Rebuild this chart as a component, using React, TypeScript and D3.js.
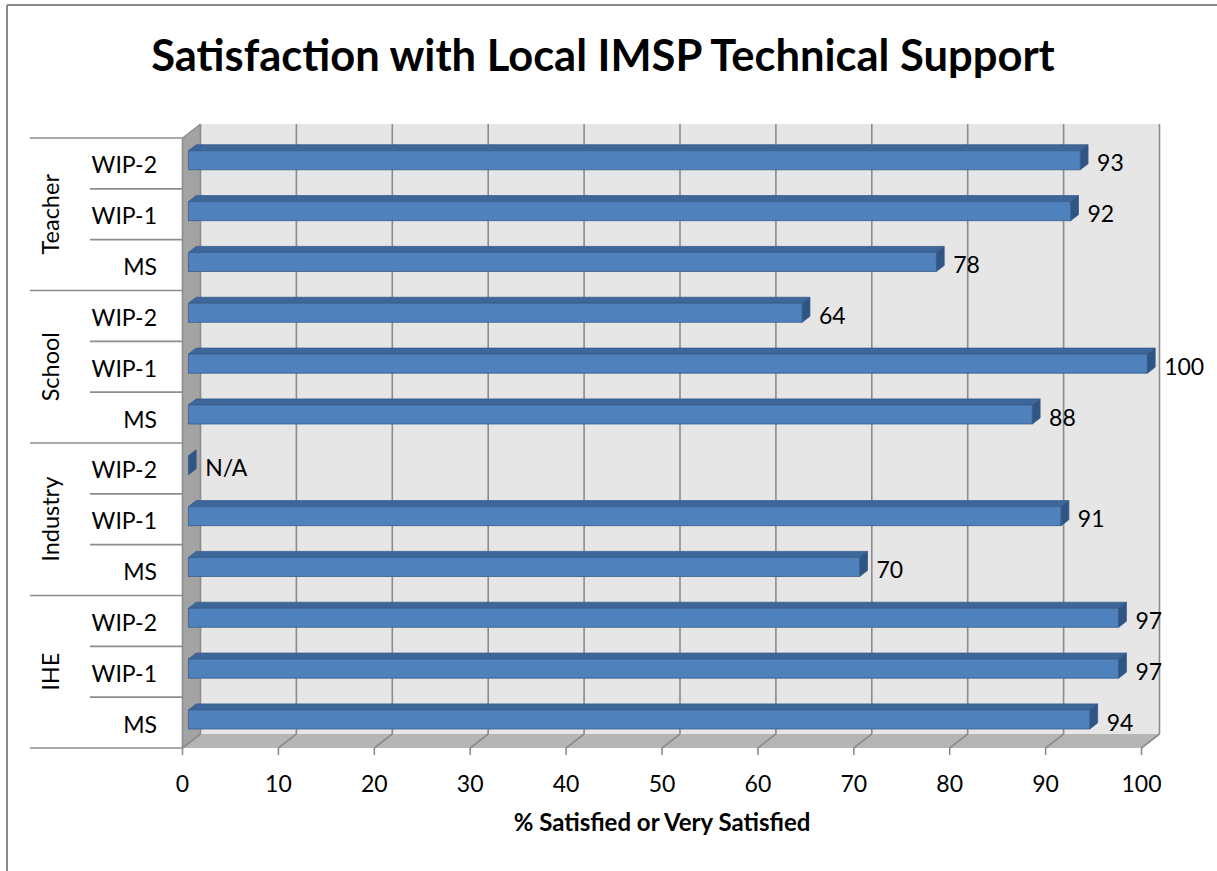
import React from "react";
import * as d3 from "d3";

// Categories, top row first
const groupLabels = ["Teacher", "School", "Industry", "IHE"];
const seriesLabels = ["WIP-2", "WIP-1", "MS"];

// % satisfied per group, in the order of seriesLabels (null = not available)
const teacherValues: (number | null)[] = [93, 92, 78];
const schoolValues: (number | null)[] = [64, 100, 88];
const industryValues: (number | null)[] = [null, 91, 70];
const iheValues: (number | null)[] = [97, 97, 94];

const valueTicks = [0, 10, 20, 30, 40, 50, 60, 70, 80, 90, 100];

const title = "Satisfaction with Local IMSP Technical Support";
const axisTitle = "% Satisfied or Very Satisfied";

const W = 1217;
const H = 871;
const FONT = "Lato, 'Open Sans', sans-serif";

// oblique depth offsets of the 3-D box
const DX = 18;
const DY = -14;
const barFront = 0.33;
const barBack = 0.76;

export default function App() {
  const groupValues = [teacherValues, schoolValues, industryValues, iheValues];
  const rows = groupValues.flatMap((vals, g) =>
    vals.map((v, s) => ({ group: groupLabels[g], series: seriesLabels[s], value: v, key: `${g}-${s}` }))
  );

  const x = d3.scaleLinear().domain([0, 100]).range([182.5, 1141.5]);
  const y = d3
    .scaleBand<string>()
    .domain(rows.map((r) => r.key))
    .range([138, 748])
    .paddingInner(0)
    .paddingOuter(0);

  const top = y.range()[0];
  const bottom = y.range()[1];
  const bw = y.bandwidth();
  const barH = bw * 0.375;

  const grid = "#8c8c8c";
  const pt = (px: number, py: number, d: number) => `${px + DX * d},${py + DY * d}`;

  return (
    <svg
      width={W}
      height={H}
      style={{ position: "absolute", left: 0, top: 0, background: "#fff" }}
      fontFamily={FONT}
    >
      {/* frame */}
      <line x1={7} y1={5} x2={W} y2={5} stroke="#8a8a8a" strokeWidth={2} />
      <line x1={7} y1={5} x2={7} y2={H} stroke="#8a8a8a" strokeWidth={2} />

      <text x={603} y={71} textAnchor="middle" fontSize={43.5} fontWeight={700} fill="#000">
        {title}
      </text>

      {/* back wall */}
      <polygon
        points={[pt(x(0), top, 1), pt(x(100), top, 1), pt(x(100), bottom, 1), pt(x(0), bottom, 1)].join(" ")}
        fill="#e6e6e6"
      />
      {/* left wall */}
      <polygon
        points={[pt(x(0), top, 0), pt(x(0), top, 1), pt(x(0), bottom, 1), pt(x(0), bottom, 0)].join(" ")}
        fill="#a3a3a3"
      />
      {/* floor */}
      <polygon
        points={[pt(x(0), bottom, 0), pt(x(100), bottom, 0), pt(x(100), bottom, 1), pt(x(0), bottom, 1)].join(" ")}
        fill="#b5b5b5"
      />

      {/* gridlines on back wall and floor */}
      {valueTicks.map((t) => (
        <g key={`g${t}`} stroke={grid} strokeWidth={1.6}>
          <line x1={x(t) + DX} y1={top + DY} x2={x(t) + DX} y2={bottom + DY} />
          <line x1={x(t)} y1={bottom} x2={x(t) + DX} y2={bottom + DY} />
          <line x1={x(t)} y1={bottom} x2={x(t)} y2={bottom + 7} />
        </g>
      ))}
      <line x1={x(0)} y1={top} x2={x(0) + DX} y2={top + DY} stroke={grid} strokeWidth={1.2} />

      {/* category axis */}
      <line x1={x(0)} y1={top} x2={x(0)} y2={bottom} stroke={grid} strokeWidth={1.6} />
      {rows.map((r, i) => {
        const yy = y(r.key)!;
        const full = i % 3 === 0;
        return (
          <line key={`sep${r.key}`} x1={full ? 30 : 90} y1={yy} x2={x(0)} y2={yy} stroke={grid} strokeWidth={1.6} />
        );
      })}
      <line x1={30} y1={bottom} x2={x(0)} y2={bottom} stroke={grid} strokeWidth={1.6} />

      {rows.map((r) => (
        <text
          key={`lab${r.key}`}
          x={157}
          y={y(r.key)! + bw / 2 + 1}
          textAnchor="end"
          dominantBaseline="central"
          fontSize={23}
          fill="#000"
        >
          {r.series}
        </text>
      ))}
      {groupLabels.map((g, gi) => {
        const cy = (y(`${gi}-0`)! + y(`${gi}-2`)! + bw) / 2;
        return (
          <text
            key={`grp${g}`}
            transform={`translate(50,${cy}) rotate(-90)`}
            textAnchor="middle"
            dominantBaseline="central"
            fontSize={23.5}
            fill="#000"
          >
            {g}
          </text>
        );
      })}

      {/* bars */}
      {rows.map((r) => {
        const v = r.value ?? 0;
        const cy = y(r.key)! + bw / 2 + 1.5;
        const yT = cy - barH / 2;
        const yB = cy + barH / 2;
        const xL = x(0);
        const xR = x(v);
        return (
          <g key={`bar${r.key}`} stroke="#385d8a" strokeWidth={0.8} strokeLinejoin="round">
            {v > 0 && (
              <>
                <polygon
                  points={[pt(xL, yT, barFront), pt(xR, yT, barFront), pt(xR, yT, barBack), pt(xL, yT, barBack)].join(" ")}
                  fill="#3d6699"
                />
                <polygon
                  points={[pt(xL, yT, barFront), pt(xR, yT, barFront), pt(xR, yB, barFront), pt(xL, yB, barFront)].join(" ")}
                  fill="#4f81bd"
                />
              </>
            )}
            <polygon
              points={[pt(xR, yT, barFront), pt(xR, yT, barBack), pt(xR, yB, barBack), pt(xR, yB, barFront)].join(" ")}
              fill="#2f5585"
            />
          </g>
        );
      })}

      {/* value labels */}
      {rows.map((r) => {
        const v = r.value ?? 0;
        return (
          <text
            key={`val${r.key}`}
            x={x(v) + DX * barBack + 9}
            y={y(r.key)! + bw / 2 - 1}
            dominantBaseline="central"
            fontSize={23}
            fill="#000"
          >
            {r.value === null ? "N/A" : r.value}
          </text>
        );
      })}

      {/* value axis labels */}
      {valueTicks.map((t) => (
        <text key={`t${t}`} x={x(t)} y={783} textAnchor="middle" dominantBaseline="central" fontSize={23} fill="#000">
          {t}
        </text>
      ))}
      <text x={(x(0) + x(100)) / 2} y={831} textAnchor="middle" fontSize={24} fontWeight={700} fill="#000">
        {axisTitle}
      </text>
    </svg>
  );
}
